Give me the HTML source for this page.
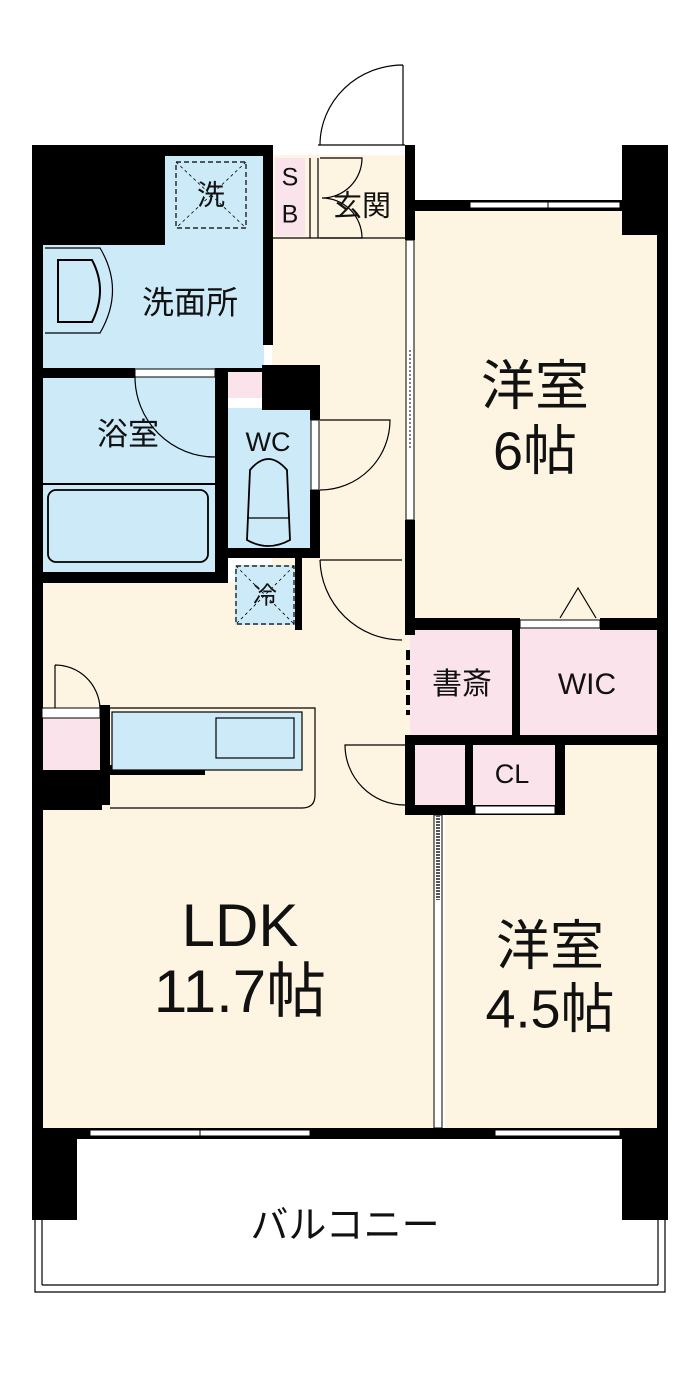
<!DOCTYPE html>
<html><head><meta charset="utf-8"><style>
html,body{margin:0;padding:0;background:#fff;}
svg{display:block}
text{font-family:"Liberation Sans","Noto Sans CJK JP",sans-serif;fill:#111;text-anchor:middle;dominant-baseline:middle}
</style></head><body>
<svg width="700" height="1389" viewBox="0 0 700 1389" xmlns="http://www.w3.org/2000/svg">
<!-- floors -->
<rect x="42" y="582" width="395" height="548" fill="#fdf5e1"/>
<rect x="272" y="155" width="138" height="470" fill="#fdf5e1"/>
<rect x="410" y="210" width="250" height="410" fill="#fdf5e1"/>
<rect x="445" y="812" width="215" height="318" fill="#fdf5e1"/>
<rect x="560" y="742" width="100" height="75" fill="#fdf5e1"/>
<!-- blue -->
<rect x="42" y="150" width="222" height="220" fill="#cdeaf8"/>
<rect x="42" y="376" width="175" height="198" fill="#cdeaf8"/>
<rect x="226" y="408" width="86" height="142" fill="#cdeaf8"/>
<rect x="235" y="565" width="60" height="60" fill="#cdeaf8"/>
<!-- pink -->
<rect x="275" y="158" width="30" height="78" fill="#fbe3ec"/>
<rect x="228" y="368" width="34" height="30" fill="#fbe3ec"/>
<rect x="410" y="628" width="104" height="108" fill="#fbe3ec"/>
<rect x="518" y="628" width="142" height="108" fill="#fbe3ec"/>
<rect x="410" y="742" width="55" height="65" fill="#fbe3ec"/>
<rect x="473" y="742" width="84" height="65" fill="#fbe3ec"/>
<rect x="42" y="718" width="60" height="52" fill="#fbe3ec"/>
<!-- walls -->
<g fill="#000">
<rect x="32" y="145" width="240" height="11"/>
<rect x="32" y="145" width="133" height="100"/>
<rect x="32" y="145" width="11" height="990"/>
<rect x="263" y="145" width="10" height="200"/>
<rect x="32" y="368" width="103" height="10"/>
<rect x="215" y="368" width="105" height="4"/>
<rect x="262" y="365" width="58" height="45"/>
<rect x="215" y="368" width="13" height="212"/>
<rect x="310" y="365" width="10" height="55"/>
<rect x="310" y="490" width="10" height="60"/>
<rect x="228" y="548" width="92" height="10"/>
<rect x="32" y="572" width="196" height="11"/>
<rect x="295" y="555" width="7" height="75"/>
<rect x="405" y="145" width="10" height="95"/>
<rect x="405" y="200" width="263" height="11"/>
<rect x="622" y="145" width="46" height="90"/>
<rect x="657" y="145" width="11" height="990"/>
<rect x="405" y="520" width="10" height="115"/>
<rect x="405" y="618" width="115" height="12"/>
<rect x="600" y="618" width="68" height="12"/>
<rect x="512" y="628" width="8" height="110"/>
<rect x="405" y="735" width="263" height="10"/>
<rect x="405" y="735" width="10" height="80"/>
<rect x="405" y="805" width="160" height="10"/>
<rect x="465" y="742" width="8" height="70"/>
<rect x="555" y="742" width="10" height="73"/>
<rect x="32" y="705" width="10" height="15"/>
<rect x="100" y="705" width="10" height="100"/>
<rect x="32" y="770" width="70" height="40"/>
<rect x="110" y="765" width="95" height="10"/>
<rect x="32" y="1128" width="636" height="11"/>
<rect x="32" y="1128" width="45" height="92"/>
<rect x="622" y="1128" width="46" height="92"/>
</g>
<!-- windows / openings white -->
<g fill="#fff" stroke="#000" stroke-width="1">
<rect x="470" y="202" width="150" height="6"/>
<rect x="90" y="1130" width="220" height="6"/>
<rect x="495" y="1130" width="125" height="6"/>
<rect x="135" y="369" width="80" height="8"/>
<rect x="520" y="620" width="80" height="8"/>
<rect x="475" y="806" width="80" height="8"/>
<rect x="311" y="420" width="8" height="70"/>
<rect x="42" y="708" width="58" height="10"/>
</g>
<line x1="548" y1="200" x2="548" y2="210" stroke="#000"/>
<line x1="200" y1="1128" x2="200" y2="1138" stroke="#000"/>
<rect x="406" y="240" width="8" height="280" fill="#fff" stroke="#000"/>
<line x1="410" y1="350" x2="410" y2="450" stroke="#000" stroke-dasharray="2,2"/>
<line x1="267" y1="165" x2="267" y2="345" stroke="#000" stroke-dasharray="2,2"/>
<rect x="434" y="815" width="8" height="313" fill="#fff" stroke="#000"/>
<line x1="438" y1="815" x2="438" y2="900" stroke="#555" stroke-width="4" stroke-dasharray="2,1"/>
<line x1="408" y1="650" x2="408" y2="715" stroke="#000" stroke-width="4" stroke-dasharray="10,5"/>
<g fill="none" stroke="#000" stroke-width="1.2">
<path d="M403 65 L403 145 M403 65 A83 80 0 0 0 320 145"/>
<line x1="318" y1="145" x2="405" y2="145"/>
<line x1="272" y1="238" x2="405" y2="238"/>
<line x1="310" y1="158" x2="310" y2="238"/>
<line x1="318" y1="158" x2="318" y2="238"/>
<path d="M320 158 L362 158 A40 40 0 0 1 322 198 M320 238 L362 238 A40 40 0 0 0 322 198"/>
<path d="M135 377 A80 80 0 0 0 215 457"/>
<path d="M320 420 L390 420 A70 70 0 0 1 320 490"/>
<path d="M320 560 L402 560 M320 560 A82 82 0 0 0 402 640"/>
<path d="M405 745 L345 745 A60 60 0 0 0 405 805"/>
<path d="M55 665 L55 708 M55 665 A45 45 0 0 1 100 708"/>
<rect x="176" y="162" width="70" height="66" stroke-dasharray="5,3"/>
<path d="M176 162 L246 228 M246 162 L176 228" stroke-dasharray="3,3" stroke-width="0.8"/>
<rect x="236" y="566" width="58" height="58" stroke-dasharray="5,3"/>
<path d="M236 566 L294 624 M294 566 L236 624" stroke-dasharray="3,3" stroke-width="0.8"/>
<path d="M45 248 L100 248 Q125 290 100 333 L45 333"/>
<path d="M58 260 L92 260 Q108 290 92 322 L58 322 Z" stroke-width="2"/>
<rect x="48" y="490" width="160" height="72" rx="8" stroke-width="1.8"/>
<line x1="42" y1="484" x2="215" y2="484" stroke-width="2"/>
<path d="M250 470 Q268 448 287 470 L290 540 Q268 552 247 540 Z" stroke-width="1.8"/>
<line x1="248" y1="518" x2="289" y2="518"/>
<path d="M560 618 L578 588 L596 618"/>
<rect x="112" y="712" width="190" height="58" fill="#cdeaf8"/>
<rect x="216" y="718" width="78" height="40"/>
<path d="M110 708 L315 708 L315 795 Q315 808 302 808 L110 808"/>
<path d="M35 1220 L35 1292 L665 1292 L665 1220"/>
<line x1="42" y1="1220" x2="42" y2="1285"/>
<line x1="658" y1="1220" x2="658" y2="1285"/>
<line x1="42" y1="1285" x2="658" y2="1285"/>
</g>
<text x="211" y="197" font-size="28">洗</text>
<text x="290" y="179" font-size="25">S</text>
<text x="290" y="216" font-size="25">B</text>
<text x="362" y="208" font-size="29">玄関</text>
<text x="190" y="305" font-size="32">洗面所</text>
<text x="128" y="437" font-size="31">浴室</text>
<text x="268" y="444" font-size="27">WC</text>
<text x="265" y="597" font-size="24">冷</text>
<text x="535" y="390" font-size="54">洋室</text>
<text x="535" y="455" font-size="54">6帖</text>
<text x="462" y="686" font-size="30">書斎</text>
<text x="587" y="686" font-size="30">WIC</text>
<text x="512" y="776" font-size="27">CL</text>
<text x="240" y="930" font-size="60">LDK</text>
<text x="240" y="996" font-size="60">11.7帖</text>
<text x="550" y="950" font-size="54">洋室</text>
<text x="550" y="1013" font-size="54">4.5帖</text>
<text x="345" y="1228" font-size="38">バルコニー</text>
</svg>
</body></html>
